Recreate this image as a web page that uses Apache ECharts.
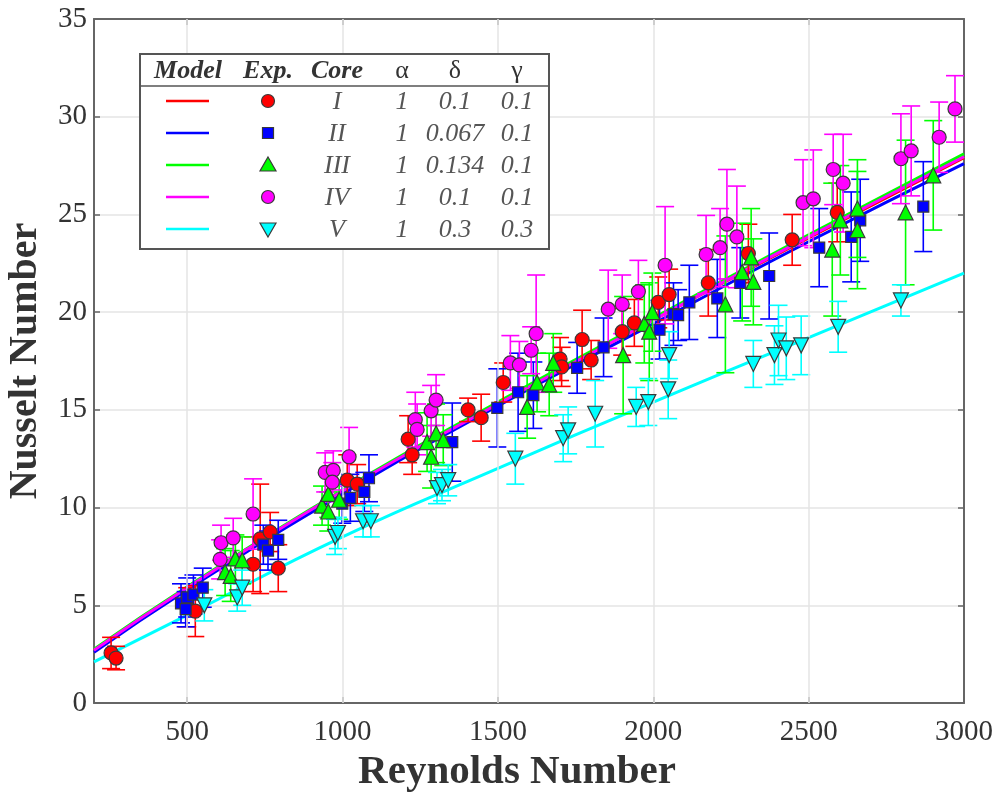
<!DOCTYPE html>
<html>
<head>
<meta charset="utf-8">
<script src="https://cdn.jsdelivr.net/npm/echarts@6/dist/echarts.min.js"></script>
<style>html,body{margin:0;padding:0;background:#fff}#c{width:1001px;height:798px}</style>
</head>
<body>
<div id="c"></div>
<script>
// ---- tick labels ----
const xTicks = [500, 1000, 1500, 2000, 2500, 3000];
const yTicks = [0, 5, 10, 15, 20, 25, 30, 35];

// ---- model curves [Re, Nu] ----
const modelI   = [[200,2.7],[500,5.9],[1000,10.8],[1500,15.3],[2000,19.6],[2500,23.8],[3000,27.9]];
const modelII  = [[200,2.6],[500,5.8],[1000,10.7],[1500,15.2],[2000,19.4],[2500,23.6],[3000,27.6]];
const modelIII = [[200,2.75],[500,5.95],[1000,10.9],[1500,15.4],[2000,19.7],[2500,23.95],[3000,28.1]];
const modelIV  = [[200,2.7],[500,5.9],[1000,10.85],[1500,15.3],[2000,19.6],[2500,23.85],[3000,27.95]];
const modelV   = [[200,2.1],[500,4.5],[1000,8.5],[1500,12.0],[2000,15.4],[2500,18.7],[3000,22.0]];

// ---- experimental data [Re, Nu, error] ----
const expI = [[255,2.56,0.8],[271,2.30,0.6],[500,4.9,1.0],[526,4.7,1.3],[712,7.1,1.4],[735,8.4,2.8],[767,8.75,1.0],[793,6.9,1.2],[1015,11.4,1.3],[1047,11.2,1.0],[1211,13.5,1.2],[1224,12.7,1.0],[1404,15.0,0.6],[1446,14.6,1.2],[1517,16.4,1.0],[1700,17.6,1.1],[1705,17.2,1.0],[1771,18.6,1.5],[1800,17.55,1.0],[1900,19.0,1.2],[1939,19.45,1.2],[2016,20.5,1.3],[2051,20.9,1.3],[2177,21.5,1.7],[2306,23.0,1.5],[2447,23.7,1.3],[2592,25.1,1.5]];
const expII = [[480,5.1,1.0],[495,4.8,0.9],[500,5.4,1.0],[520,5.55,1.0],[550,5.9,1.0],[745,8.1,1.0],[760,7.8,1.0],[793,8.35,1.0],[999,10.2,1.0],[1025,10.5,1.2],[1070,10.8,1.0],[1085,11.5,1.2],[1353,13.35,2.0],[1498,15.1,2.0],[1565,15.9,2.0],[1614,15.75,1.7],[1755,17.15,1.3],[1840,18.2,1.5],[2020,19.1,1.5],[2065,19.9,1.6],[2080,19.85,1.3],[2116,20.5,1.9],[2206,20.7,2.0],[2280,21.5,1.8],[2373,21.85,2.2],[2534,23.3,2.0],[2637,23.85,2.3],[2666,24.7,2.1],[2869,25.4,2.3]];
const expIII = [[622,6.7,1.2],[640,6.5,1.3],[655,7.4,1.2],[677,7.3,1.2],[934,10.1,1.0],[954,10.7,1.2],[954,9.8,1.0],[989,10.4,1.0],[1272,13.35,1.5],[1285,12.6,1.6],[1301,13.8,1.5],[1324,13.45,1.3],[1594,15.15,1.6],[1626,16.4,1.5],[1665,16.3,1.6],[1678,17.4,1.5],[1903,17.8,3.0],[1971,19.4,2.0],[1987,19.0,2.5],[1997,20.0,2.0],[2232,20.4,3.5],[2286,22.05,2.5],[2315,22.8,2.5],[2322,21.55,2.2],[2576,23.2,3.4],[2602,24.7,2.8],[2657,25.3,2.5],[2657,24.2,3.0],[2812,25.1,3.7],[2901,27.0,2.8]];
const expIV = [[606,7.35,1.0],[609,8.2,0.9],[648,8.45,1.0],[712,9.67,1.8],[944,11.8,1.0],[970,11.9,1.0],[967,11.3,1.0],[1021,12.6,1.5],[1234,14.5,1.4],[1240,14.0,1.3],[1285,14.95,1.3],[1301,15.5,1.3],[1540,17.4,1.4],[1569,17.3,1.2],[1607,18.05,1.2],[1623,18.9,3.0],[1855,20.15,2.0],[1900,20.4,1.5],[1952,21.05,1.6],[2038,22.4,3.0],[2170,22.95,2.0],[2215,23.3,2.0],[2237,24.5,2.8],[2269,23.85,2.6],[2482,25.6,2.2],[2515,25.8,2.5],[2579,27.3,1.8],[2611,26.6,2.5],[2797,27.85,2.3],[2830,28.25,2.3],[2920,28.95,1.8],[2971,30.4,1.7]];
const expV = [[555,5.0,0.8],[661,5.4,0.7],[677,5.9,0.9],[976,8.5,0.9],[985,8.7,0.8],[1066,9.3,0.8],[1091,9.3,0.8],[1304,11.0,0.8],[1320,11.15,0.8],[1340,11.4,0.8],[1556,12.5,1.3],[1710,13.55,1.2],[1726,13.95,1.2],[1813,14.8,1.7],[1945,15.15,1.0],[1984,15.4,1.2],[2048,16.05,1.5],[2051,17.8,1.2],[2322,17.35,1.2],[2390,17.8,1.5],[2403,18.55,1.8],[2428,18.15,1.6],[2476,18.3,1.5],[2595,19.25,1.3],[2797,20.6,0.8]];

// ---- legend table text ----
const legendHeader = ['Model', 'Exp.', 'Core', 'α', 'δ', 'γ'];
const legendCore  = ['I', 'II', 'III', 'IV', 'V'];
const legendAlpha = ['1', '1', '1', '1', '1'];
const legendDelta = ['0.1', '0.067', '0.134', '0.1', '0.3'];
const legendGamma = ['0.1', '0.1', '0.1', '0.1', '0.3'];

const colors = ['#ff0000', '#0000ff', '#00ff00', '#ff00ff', '#00ffff'];
const FONT = '"Liberation Serif", "Times New Roman", serif';

const models = [modelI, modelII, modelIII, modelIV, modelV];
const exps = [expI, expII, expIII, expIV, expV];
const symbols = ['circle', 'rect', 'triangle', 'circle', 'triangle'];
const symSize = [14, 11, 15, 14, 15];
const symRot = [0, 0, 0, 0, 180];

const chart = echarts.init(document.getElementById('c'), null, {renderer: 'canvas'});

const series = [];
// vertical grid lines via markLine
series.push({
  type: 'line', data: [], silent: true,
  markLine: {
    silent: true, symbol: 'none', label: {show: false},
    lineStyle: {color: '#e4e4e4', width: 1.5, type: 'solid'},
    data: xTicks.filter(v => v < 3000).map(v => ({xAxis: v}))
  }
});
models.forEach((m, i) => {
  series.push({
    type: 'line', data: m, smooth: true, symbol: 'none', silent: true,
    lineStyle: {color: colors[i], width: 3}, z: 3
  });
});
exps.forEach((d, i) => {
  series.push({
    type: 'custom', data: d, z: 4, silent: true,
    encode: {x: 0, y: 1},
    renderItem: function (params, api) {
      const x = api.value(0), y = api.value(1), e = api.value(2);
      const t = api.coord([x, y + e]);
      const b = api.coord([x, y - e]);
      const w = 9;
      const st = {stroke: colors[i], lineWidth: 1.6};
      return {
        type: 'group',
        children: [
          {type: 'line', shape: {x1: t[0], y1: t[1], x2: b[0], y2: b[1]}, style: st},
          {type: 'line', shape: {x1: t[0] - w, y1: t[1], x2: t[0] + w, y2: t[1]}, style: st},
          {type: 'line', shape: {x1: b[0] - w, y1: b[1], x2: b[0] + w, y2: b[1]}, style: st}
        ]
      };
    }
  });
});
exps.forEach((d, i) => {
  series.push({
    type: 'scatter', data: d.map(p => [p[0], p[1]]), z: 5, silent: true,
    symbol: symbols[i], symbolSize: symSize[i], symbolRotate: symRot[i],
    itemStyle: {color: colors[i], borderColor: '#3a3a3a', borderWidth: 1.2, opacity: 1}
  });
});

// legend table via graphic
const LX = 139, LY = 53, LW = 409, LH = 195;
const colX = [188, 268, 337, 402, 455, 517];
const rowY = [101, 133, 165, 197, 229];
const g = [];
g.push({type: 'rect', left: LX, top: LY, shape: {width: LW, height: LH}, style: {fill: '#fff', stroke: '#555', lineWidth: 2}, z: 10});
g.push({type: 'line', shape: {x1: LX, y1: 86, x2: LX + LW, y2: 86}, style: {stroke: '#555', lineWidth: 1.5}, z: 11});
legendHeader.forEach((h, j) => {
  const greek = j >= 3;
  g.push({type: 'text', x: colX[j], y: 71, z: 11, style: {
    text: h, fill: '#333', font: (greek ? 'normal 26px ' : 'italic bold 26px ') + FONT,
    align: 'center', verticalAlign: 'middle'}});
});
for (let r = 0; r < 5; r++) {
  const y = rowY[r];
  g.push({type: 'line', z: 11, shape: {x1: 166, y1: y, x2: 209, y2: y}, style: {stroke: colors[r], lineWidth: 2.5}});
  const ex = colX[1];
  if (symbols[r] === 'circle') {
    g.push({type: 'circle', z: 11, shape: {cx: ex, cy: y, r: 6.5}, style: {fill: colors[r], stroke: '#3a3a3a', lineWidth: 1.2}});
  } else if (symbols[r] === 'rect') {
    g.push({type: 'rect', z: 11, shape: {x: ex - 5.5, y: y - 5.5, width: 11, height: 11}, style: {fill: colors[r], stroke: '#3a3a3a', lineWidth: 1.2}});
  } else if (symRot[r] === 0) {
    g.push({type: 'polygon', z: 11, shape: {points: [[ex, y - 8], [ex + 8, y + 6], [ex - 8, y + 6]]}, style: {fill: colors[r], stroke: '#3a3a3a', lineWidth: 1.2}});
  } else {
    g.push({type: 'polygon', z: 11, shape: {points: [[ex, y + 8], [ex + 8, y - 6], [ex - 8, y - 6]]}, style: {fill: colors[r], stroke: '#3a3a3a', lineWidth: 1.2}});
  }
  const vals = [legendCore[r], legendAlpha[r], legendDelta[r], legendGamma[r]];
  vals.forEach((v, k) => {
    g.push({type: 'text', x: colX[k + 2], y: y + 1, z: 11, style: {
      text: v, fill: '#555', font: 'italic 26px ' + FONT, align: 'center', verticalAlign: 'middle'}});
  });
}

const option = {
  backgroundColor: '#fff',
  animation: false,
  grid: {left: 94, right: 37, top: 19, bottom: 95, containLabel: false, outerBoundsMode: 'none'},
  xAxis: [{
    type: 'value', min: 200, max: 3000, position: 'bottom',
    name: 'Reynolds Number', nameLocation: 'middle', nameGap: 48,
    nameTextStyle: {fontFamily: FONT, fontWeight: 'bold', fontSize: 41, color: '#333', padding: [0, 24, 0, 0]},
    axisLine: {show: true, onZero: false, lineStyle: {color: '#666', width: 2}},
    axisTick: {show: true, inside: true, length: 6, customValues: xTicks, lineStyle: {color: '#666', width: 1.5}},
    axisLabel: {customValues: xTicks, formatter: v => String(v), fontFamily: FONT, fontSize: 29, color: '#333', margin: 15},
    splitLine: {show: false}
  }, {
    type: 'value', min: 200, max: 3000, position: 'top',
    axisLine: {show: true, onZero: false, lineStyle: {color: '#666', width: 2}},
    axisTick: {show: true, inside: true, length: 6, customValues: xTicks, lineStyle: {color: '#666', width: 1.5}},
    axisLabel: {show: false}, splitLine: {show: false}
  }],
  yAxis: [{
    type: 'value', min: 0, max: 35, interval: 5, position: 'left',
    name: 'Nusselt Number', nameLocation: 'middle', nameGap: 48,
    nameTextStyle: {fontFamily: FONT, fontWeight: 'bold', fontSize: 40, color: '#333'},
    axisLine: {show: true, onZero: false, lineStyle: {color: '#666', width: 2}},
    axisTick: {show: true, inside: true, length: 6, lineStyle: {color: '#666', width: 1.5}},
    axisLabel: {formatter: v => String(v), fontFamily: FONT, fontSize: 29, color: '#333', margin: 7},
    splitLine: {show: true, lineStyle: {color: '#e4e4e4', width: 1.5}}
  }, {
    type: 'value', min: 0, max: 35, interval: 5, position: 'right',
    axisLine: {show: true, onZero: false, lineStyle: {color: '#666', width: 2}},
    axisTick: {show: true, inside: true, length: 6, lineStyle: {color: '#666', width: 1.5}},
    axisLabel: {show: false}, splitLine: {show: false}
  }],
  series: series,
  graphic: g
};
chart.setOption(option);
</script>
</body>
</html>
